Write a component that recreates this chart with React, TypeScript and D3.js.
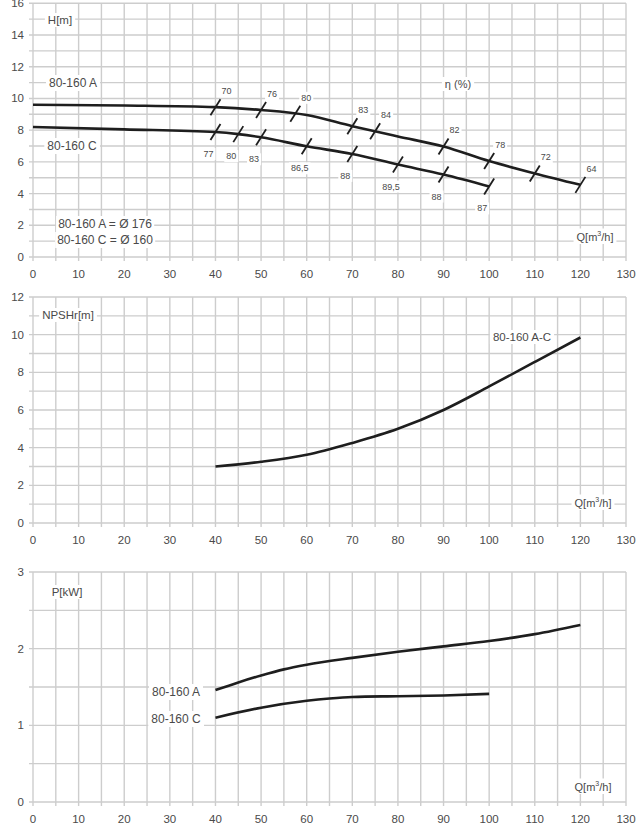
import React, { useEffect, useRef } from "react";
import * as d3 from "d3";

const W = 638;
const H = 830;

const xTicks = [0, 10, 20, 30, 40, 50, 60, 70, 80, 90, 100, 110, 120, 130];
const headTicks = [0, 2, 4, 6, 8, 10, 12, 14, 16];
const npshTicks = [0, 2, 4, 6, 8, 10, 12];
const powerTicks = [0, 1, 2, 3];

// Head curves
const headA: [number, number][] = [
  [0, 9.6], [20, 9.55], [40, 9.45], [50, 9.27], [60, 8.95], [70, 8.25],
  [80, 7.6], [90, 6.97], [100, 6.05], [110, 5.27], [120, 4.55],
];
const headC: [number, number][] = [
  [0, 8.2], [20, 8.05], [40, 7.88], [45, 7.75], [50, 7.55], [60, 6.98],
  [70, 6.5], [80, 5.83], [90, 5.2], [100, 4.45],
];
// Efficiency marks: Q, label
const effA: [number, string][] = [
  [40, "70"], [50, "76"], [57.5, "80"], [70, "83"], [75, "84"],
  [90, "82"], [100, "78"], [110, "72"], [120, "64"],
];
const effC: [number, string][] = [
  [40, "77"], [45, "80"], [50, "83"], [60, "86,5"], [70, "88"],
  [80, "89,5"], [90, "88"], [100, "87"],
];
// NPSH curve
const npsh: [number, number][] = [
  [40, 3.0], [50, 3.25], [60, 3.62], [70, 4.25], [80, 5.0], [90, 6.0],
  [100, 7.25], [110, 8.55], [120, 9.85],
];
// Power curves
const powerA: [number, number][] = [
  [40, 1.46], [45, 1.56], [50, 1.65], [55, 1.73], [60, 1.79], [70, 1.88],
  [80, 1.96], [90, 2.03], [100, 2.1], [110, 2.19], [120, 2.31],
];
const powerC: [number, number][] = [
  [40, 1.1], [50, 1.23], [60, 1.32], [65, 1.35], [70, 1.37], [80, 1.38],
  [90, 1.39], [100, 1.41],
];

const FONT = "'Liberation Sans', Arial, Helvetica, sans-serif";
const GRID = "#cdcdcd";
const TXT = "#4a4a4a";
const CURVE = "#1e1e1e";

export default function App() {
  const ref = useRef<SVGSVGElement | null>(null);

  useEffect(() => {
    document.body.style.margin = "0";
    const svg = d3.select(ref.current);
    svg.selectAll("*").remove();
    svg.append("rect").attr("width", W).attr("height", H).attr("fill", "#fff");

    const x = d3.scaleLinear().domain([0, 130]).range([33, 626]);
    const xGrid = d3.range(0, 131, 5);

    const labelLayer: d3.Selection<SVGGElement, unknown, null, undefined>[] = [];

    function panel(
      y: d3.ScaleLinear<number, number>,
      yGridStep: number,
      yMax: number,
      yTicks: number[],
      xLabelY: number
    ) {
      const g = svg.append("g");
      const y0 = y(0);
      const yTop = y(yMax);
      // horizontal grid
      d3.range(0, yMax + 1e-9, yGridStep).forEach((v) => {
        g.append("line")
          .attr("x1", x(0) - 4).attr("x2", x(130))
          .attr("y1", y(v)).attr("y2", y(v))
          .attr("stroke", GRID).attr("stroke-width", 1.4);
      });
      xGrid.forEach((v) => {
        g.append("line")
          .attr("x1", x(v)).attr("x2", x(v))
          .attr("y1", yTop).attr("y2", y0 + 4)
          .attr("stroke", GRID).attr("stroke-width", 1.4);
      });
      yTicks.forEach((v) => {
        g.append("text")
          .attr("x", 24).attr("y", y(v) + 4)
          .attr("text-anchor", "end")
          .attr("font-family", FONT).attr("font-size", 11.5)
          .attr("fill", TXT).text(String(v));
      });
      xTicks.forEach((v) => {
        g.append("text")
          .attr("x", x(v)).attr("y", xLabelY)
          .attr("text-anchor", "middle")
          .attr("font-family", FONT).attr("font-size", 11.5)
          .attr("fill", TXT).text(String(v));
      });
      const lg = svg.append("g");
      labelLayer.push(lg);
      return { g, lg };
    }

    function boxedText(
      parent: d3.Selection<SVGGElement, unknown, null, undefined>,
      tx: number, ty: number, txt: string, size: number, anchor = "middle", pad = 3
    ) {
      const gg = parent.append("g");
      const rect = gg.append("rect").attr("fill", "#fff");
      const t = gg.append("text")
        .attr("x", tx).attr("y", ty)
        .attr("text-anchor", anchor)
        .attr("dominant-baseline", "central")
        .attr("font-family", FONT).attr("font-size", size)
        .attr("fill", TXT).text(txt);
      const bb = (t.node() as SVGTextElement).getBBox();
      rect.attr("x", bb.x - pad).attr("y", bb.y - 1)
        .attr("width", bb.width + pad * 2).attr("height", bb.height + 2);
      return t;
    }

    function qLabel(parent: d3.Selection<SVGGElement, unknown, null, undefined>, tx: number, ty: number) {
      const gg = parent.append("g");
      const rect = gg.append("rect").attr("fill", "#fff");
      const t = gg.append("text")
        .attr("x", tx).attr("y", ty)
        .attr("text-anchor", "middle")
        .attr("dominant-baseline", "central")
        .attr("font-family", FONT).attr("font-size", 11)
        .attr("fill", TXT);
      t.append("tspan").text("Q[m");
      t.append("tspan").attr("font-size", 7).attr("dy", -4).text("3");
      t.append("tspan").attr("dy", 4).text("/h]");
      const bb = (t.node() as SVGTextElement).getBBox();
      rect.attr("x", bb.x - 3).attr("y", bb.y - 1)
        .attr("width", bb.width + 6).attr("height", bb.height + 2);
    }

    function curve(
      g: d3.Selection<SVGGElement, unknown, null, undefined>,
      y: d3.ScaleLinear<number, number>,
      data: [number, number][]
    ) {
      const line = d3.line<[number, number]>()
        .x((d) => x(d[0])).y((d) => y(d[1]))
        .curve(d3.curveMonotoneX);
      g.append("path").attr("d", line(data) as string)
        .attr("fill", "none").attr("stroke", CURVE)
        .attr("stroke-width", 2.6).attr("stroke-linecap", "butt");
      return line;
    }

    // ---------- Top: Head ----------
    const yH = d3.scaleLinear().domain([0, 16]).range([257, 3.3]);
    const top = panel(yH, 1, 16, headTicks, 278);
    // labels first (below curves)
    boxedText(top.lg, 60, 20, "H[m]", 11.5);
    boxedText(top.lg, 73, 83, "80-160 A", 12);
    boxedText(top.lg, 72, 146, "80-160 C", 12);
    boxedText(top.lg, 105, 224, "80-160 A = Ø 176", 12, "middle", 2);
    boxedText(top.lg, 105, 240, "80-160 C = Ø 160", 12, "middle", 2);
    boxedText(top.lg, 458, 84, "η (%)", 11);
    qLabel(top.lg, 595, 237);

    const interp = (data: [number, number][], q: number) => {
      for (let i = 0; i < data.length - 1; i++) {
        const [q0, v0] = data[i];
        const [q1, v1] = data[i + 1];
        if (q >= q0 && q <= q1) return v0 + ((v1 - v0) * (q - q0)) / (q1 - q0);
      }
      return data[data.length - 1][1];
    };

    effA.forEach(([q, lab]) => {
      const px = x(q);
      const py = yH(interp(headA, q));
      boxedText(top.lg, px + 11, py - 16, lab, 9, "middle", 2);
    });
    effC.forEach(([q, lab]) => {
      const px = x(q);
      const py = yH(interp(headC, q));
      boxedText(top.lg, px - 7, py + 22, lab, 9, "middle", 2);
    });

    const cg = svg.append("g");
    curve(cg, yH, headA);
    curve(cg, yH, headC);
    const mark = (q: number, data: [number, number][]) => {
      const px = x(q);
      const py = yH(interp(data, q));
      cg.append("line")
        .attr("x1", px - 5).attr("y1", py + 8)
        .attr("x2", px + 5).attr("y2", py - 8)
        .attr("stroke", CURVE).attr("stroke-width", 1.8);
    };
    effA.forEach(([q]) => mark(q, headA));
    effC.forEach(([q]) => mark(q, headC));

    // ---------- Middle: NPSH ----------
    const yN = d3.scaleLinear().domain([0, 12]).range([523, 297]);
    const mid = panel(yN, 1, 12, npshTicks, 544);
    boxedText(mid.lg, 68, 315, "NPSHr[m]", 11.5);
    boxedText(mid.lg, 522, 337, "80-160 A-C", 11.5);
    qLabel(mid.lg, 593, 503);
    const mg = svg.append("g");
    curve(mg, yN, npsh);

    // ---------- Bottom: Power ----------
    const yP = d3.scaleLinear().domain([0, 3]).range([802, 572]);
    const bot = panel(yP, 0.5, 3, powerTicks, 823);
    boxedText(bot.lg, 67, 592, "P[kW]", 11.5);
    boxedText(bot.lg, 176, 692, "80-160 A", 12);
    boxedText(bot.lg, 176, 719, "80-160 C", 12);
    qLabel(bot.lg, 593, 787);
    const bg = svg.append("g");
    curve(bg, yP, powerA);
    curve(bg, yP, powerC);
  }, []);

  return <svg ref={ref} width={W} height={H} style={{ display: "block" }} />;
}
